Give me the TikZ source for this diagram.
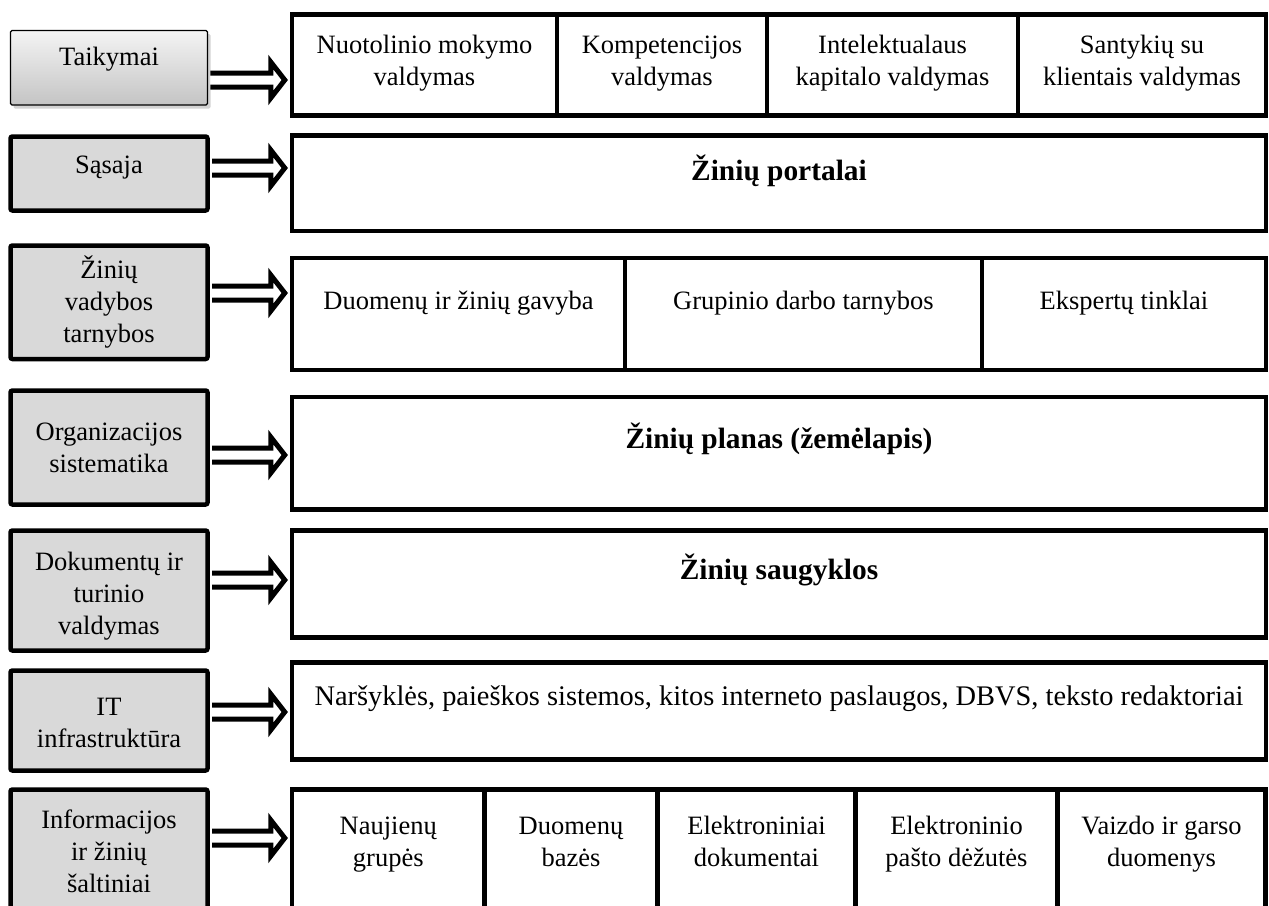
\documentclass[tikz,border=0pt]{standalone}
\usepackage{fontspec}
\setmainfont{Liberation Serif}
\usetikzlibrary{calc,shadows}

\definecolor{sidegray}{RGB}{217,217,217}
\definecolor{shadetop}{RGB}{244,244,244}
\definecolor{shadebot}{RGB}{196,196,196}

% centred lines, baseline = first line
\newcommand\stk[1]{\vtop{\halign{\hfil##\hfil\cr#1\crcr}}}

% rectangle node from two corners: [style]{name}{x1}{y1}{x2}{y2}
\newcommand\cellnode[6][cell]{%
  \node[#1, minimum width={(#5-#3)*1bp}, minimum height={(#6-#4)*1bp}]
    (#2) at ({(#3+#5)/2},{(#4+#6)/2}) {};}

% hollow block arrow from a left box to a right box at the height of a coordinate
\newcommand\hollowarrow[3]{%
  \draw[hollow] ($(#1.east |- #3)+(2.25,-7)$)
    -- ($(#2.west |- #3)+(-19,-7)$) -- ++(0,-11)
    -- ($(#2.west |- #3)+(-5,0)$)
    -- ($(#2.west |- #3)+(-19,18)$) -- ++(0,-11)
    -- ($(#1.east |- #3)+(2.25,7)$);}

\tikzset{
  side/.style={draw, line width=4.5bp, fill=sidegray, rounded corners=2bp, inner sep=0},
  topside/.style={draw, line width=1.2bp, rounded corners=1.5bp, inner sep=0,
    top color=shadetop, bottom color=shadebot,
    drop shadow={shadow xshift=3bp, shadow yshift=-3.5bp, opacity=0.35}},
  cell/.style={draw, line width=4.5bp, inner sep=0},
  txt/.style={anchor=base, inner sep=0, font=\fontsize{26.6}{32.5}\selectfont},
  bigtxt/.style={anchor=base, inner sep=0, font=\fontsize{28.5}{34}\selectfont},
  bold/.style={anchor=base, inner sep=0, font=\fontsize{29.5}{34}\selectfont\bfseries},
  hollow/.style={draw, fill=white, line width=5bp, line join=miter},
}

\begin{document}
\begin{tikzpicture}[x=1bp,y=-1bp]
\useasboundingbox (0,0) rectangle (1269,906);
\clip (0,0) rectangle (1269,906);

% layer labels on the left
\cellnode[topside]{L1}{10.5}{30.5}{207.5}{105}
\cellnode[side]{L2}{10.5}{136.5}{207.5}{210.5}
\cellnode[side]{L3}{10.5}{245.5}{207.5}{359}
\cellnode[side]{L4}{10.5}{390.5}{207.5}{504.5}
\cellnode[side]{L5}{10.5}{530.5}{207.5}{650.5}
\cellnode[side]{L6}{10.5}{670.5}{207.5}{770.5}
\cellnode[side]{L7}{10.5}{789.5}{207.5}{940}

\node[txt] (t1) at (109,65) {Taikymai};
\node[txt] (t2) at (109,173) {Sąsaja};
\node[txt] (t3) at (109,278) {\stk{Žinių\cr vadybos\cr tarnybos}};
\node[txt] (t4) at (109,440) {\stk{Organizacijos\cr sistematika}};
\node[txt] (t5) at (109,570) {\stk{Dokumentų ir\cr turinio\cr valdymas}};
\node[txt] (t6) at (109,715) {\stk{IT\cr infrastruktūra}};
\node[txt] (t7) at (109,828) {\stk{Informacijos\cr ir žinių\cr šaltiniai}};

% row 1: applications
\cellnode{R1a}{292}{14.5}{557}{115.5}
\cellnode{R1b}{557}{14.5}{767}{115.5}
\cellnode{R1c}{767}{14.5}{1018}{115.5}
\cellnode{R1d}{1018}{14.5}{1266}{115.5}
\node[txt] (u1a) at (R1a |- 0,53) {\stk{Nuotolinio mokymo\cr valdymas}};
\node[txt] (u1b) at (R1b |- 0,53) {\stk{Kompetencijos\cr valdymas}};
\node[txt] (u1c) at (R1c |- 0,53) {\stk{Intelektualaus\cr kapitalo valdymas}};
\node[txt] (u1d) at (R1d |- 0,53) {\stk{Santykių su\cr klientais valdymas}};

% row 2: interface
\cellnode{R2}{292}{135.5}{1266}{231}
\node[bold] (u2) at (R2 |- 0,180) {Žinių portalai};

% row 3: services
\cellnode{R3a}{292}{258}{625}{370}
\cellnode{R3b}{625}{258}{982}{370}
\cellnode{R3c}{982}{258}{1266}{370}
\node[txt] (u3a) at (R3a |- 0,309) {Duomenų ir žinių gavyba};
\node[txt] (u3b) at (R3b |- 0,309) {Grupinio darbo tarnybos};
\node[txt] (u3c) at (R3c |- 0,309) {Ekspertų tinklai};

% row 4: taxonomy
\cellnode{R4}{292}{397}{1266}{509.5}
\node[bold] (u4) at (R4 |- 0,448) {Žinių planas (žemėlapis)};

% row 5: repositories
\cellnode{R5}{292}{530.5}{1266}{637.5}
\node[bold] (u5) at (R5 |- 0,579) {Žinių saugyklos};

% row 6: IT infrastructure
\cellnode{R6}{292}{662.5}{1266}{759.5}
\node[bigtxt] (u6) at (R6 |- 0,705) {Naršyklės, paieškos sistemos, kitos interneto paslaugos, DBVS, teksto redaktoriai};

% row 7: sources
\cellnode{R7a}{292}{789.5}{484.5}{940}
\cellnode{R7b}{484.5}{789.5}{657.5}{940}
\cellnode{R7c}{657.5}{789.5}{855.5}{940}
\cellnode{R7d}{855.5}{789.5}{1057.5}{940}
\cellnode{R7e}{1057.5}{789.5}{1265.5}{940}
\node[txt] (u7a) at (R7a |- 0,834) {\stk{Naujienų\cr grupės}};
\node[txt] (u7b) at (R7b |- 0,834) {\stk{Duomenų\cr bazės}};
\node[txt] (u7c) at (R7c |- 0,834) {\stk{Elektroniniai\cr dokumentai}};
\node[txt] (u7d) at (R7d |- 0,834) {\stk{Elektroninio\cr pašto dėžutės}};
\node[txt] (u7e) at (R7e |- 0,834) {\stk{Vaizdo ir garso\cr duomenys}};

% arrow heights
\coordinate (a1) at (0,80);
\coordinate (a2) at (0,168);
\coordinate (a3) at (0,293);
\coordinate (a4) at (0,455);
\coordinate (a5) at (0,580);
\coordinate (a6) at (0,712);
\coordinate (a7) at (0,838);

\hollowarrow{L1}{R1a}{a1}
\hollowarrow{L2}{R2}{a2}
\hollowarrow{L3}{R3a}{a3}
\hollowarrow{L4}{R4}{a4}
\hollowarrow{L5}{R5}{a5}
\hollowarrow{L6}{R6}{a6}
\hollowarrow{L7}{R7a}{a7}
\end{tikzpicture}
\end{document}
